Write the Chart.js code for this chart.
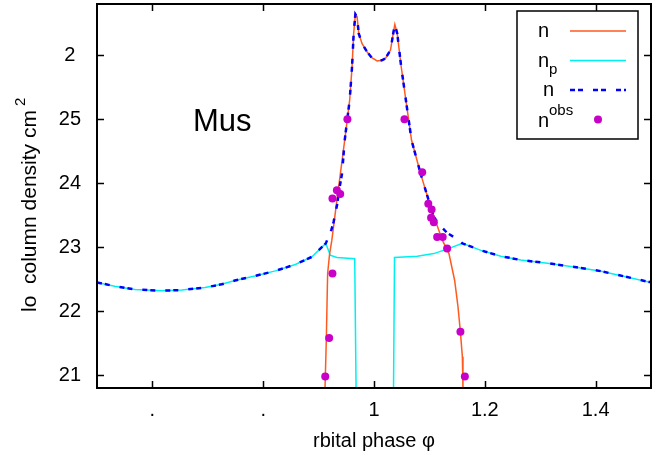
<!DOCTYPE html>
<html>
<head>
<meta charset="utf-8">
<script src="https://cdn.jsdelivr.net/npm/chart.js@4/dist/chart.umd.min.js"></script>
<style>
  html, body { margin: 0; padding: 0; background: #ffffff; }
  #wrap { width: 670px; height: 457px; }
</style>
</head>
<body>
<div id="wrap"><canvas id="colChart" width="670" height="457"></canvas></div>
<script>
// axis ticks (labels as they appear on the axes)
const xTickValues = [0.6, 0.8, 1.0, 1.2, 1.4];
const xTickLabels = ['.', '.', '1', '1.2', '1.4'];
const yTickValues = [21, 22, 23, 24, 25, 26];
const yTickLabels = ['21', '22', '23', '24', '25', '2'];

// total column density (solid curve)
const phaseN = [0.9110, 0.9116, 0.9139, 0.9163, 0.9199, 0.9239, 0.9315, 0.9393, 0.9471, 0.9561,
                0.9604, 0.9633, 0.9664, 0.9695, 0.9724, 0.9785, 0.9876, 0.9960, 1.0057, 1.0140,
                1.0207, 1.0298, 1.0347, 1.0376, 1.0419, 1.0491, 1.0575, 1.0678, 1.0841, 1.1022,
                1.1233, 1.1353, 1.1456, 1.1516, 1.1559, 1.1595, 1.1606, 1.1610];
const logN = [20.50, 20.80, 21.55, 22.59, 22.90, 23.11, 23.63, 24.15, 24.67, 25.30,
              25.82, 26.34, 26.64, 26.60, 26.34, 26.18, 26.05, 25.96, 25.91, 25.92,
              25.95, 26.08, 26.34, 26.48, 26.34, 25.82, 25.30, 24.67, 24.15, 23.63,
              23.11, 22.90, 22.48, 22.07, 21.68, 21.29, 20.80, 20.50];

// n_p component
const phaseP = [0.500, 0.532, 0.568, 0.617, 0.653, 0.695, 0.725, 0.749, 0.785, 0.822,
                0.858, 0.888, 0.913, 0.921, 0.933, 0.9652, 0.9680, 1.0350, 1.0370, 1.078,
                1.108, 1.132, 1.1596, 1.193, 1.229, 1.265, 1.313, 1.362, 1.410, 1.464, 1.500];
const logNP = [22.45, 22.39, 22.34, 22.32, 22.33, 22.37, 22.42, 22.48, 22.55, 22.63,
               22.73, 22.85, 23.06, 22.875, 22.84, 22.82, 20.50, 20.50, 22.84, 22.86,
               22.90, 22.97, 23.06, 22.95, 22.86, 22.80, 22.75, 22.69, 22.625, 22.52, 22.45];

// model column density (dashed)
const phaseM = [0.500, 0.532, 0.568, 0.617, 0.653, 0.695, 0.725, 0.749, 0.785, 0.822,
                0.858, 0.888, 0.913, 0.923, 0.9272, 0.9333, 0.9380, 0.9423, 0.9471, 0.9561,
                0.9604, 0.9633, 0.9664, 0.9695, 0.9724, 0.9785, 0.9876, 0.9960, 1.0057, 1.0140,
                1.0207, 1.0298, 1.0347, 1.0376, 1.0419, 1.0491, 1.0575, 1.0678, 1.0841, 1.1022,
                1.1080, 1.1203, 1.1324, 1.1534, 1.1596, 1.193, 1.229, 1.265, 1.313, 1.362,
                1.410, 1.464, 1.500];
const logNM = [22.45, 22.39, 22.34, 22.32, 22.33, 22.37, 22.42, 22.48, 22.55, 22.63,
               22.73, 22.85, 23.06, 23.27, 23.40, 23.66, 23.94, 24.15, 24.67, 25.30,
               25.82, 26.34, 26.64, 26.60, 26.34, 26.18, 26.05, 25.96, 25.91, 25.92,
               25.95, 26.08, 26.34, 26.48, 26.34, 25.82, 25.30, 24.67, 24.15, 23.63,
               23.47, 23.33, 23.22, 23.11, 23.06, 22.95, 22.86, 22.80, 22.75, 22.69,
               22.625, 22.52, 22.45];

// observed values
const obsPhase = [0.912, 0.919, 0.925, 0.925, 0.933, 0.939, 0.952, 1.055, 1.087, 1.098,
                  1.104, 1.103, 1.108, 1.114, 1.124, 1.132, 1.156, 1.164];
const obsLogN = [20.98, 21.58, 22.59, 23.76, 23.89, 23.83, 25.00, 25.00, 24.17, 23.68,
                 23.59, 23.46, 23.39, 23.16, 23.16, 22.98, 21.68, 20.98];

const FONT = '"Liberation Sans", Arial, Helvetica, sans-serif';

function toPoints(xs, ys) {
    return xs.map((x, i) => ({ x: x, y: ys[i] }));
}

// frame, inward ticks, axis titles, label and key
const decorations = {
    id: 'decorations',
    afterDraw(chart) {
        const ctx = chart.ctx;
        const a = chart.chartArea;
        const xs = chart.scales.x;
        const ys = chart.scales.y;
        const ds = chart.data.datasets;
        ctx.save();

        // border
        ctx.strokeStyle = '#000';
        ctx.lineWidth = 2;
        ctx.strokeRect(a.left, a.top, a.right - a.left, a.bottom - a.top);

        // ticks pointing inwards, mirrored on all sides
        ctx.lineWidth = 1.5;
        ctx.beginPath();
        xTickValues.forEach(v => {
            const px = Math.round(xs.getPixelForValue(v)) + 0.5;
            ctx.moveTo(px, a.bottom); ctx.lineTo(px, a.bottom - 7);
            ctx.moveTo(px, a.top); ctx.lineTo(px, a.top + 7);
        });
        yTickValues.forEach(v => {
            const py = Math.round(ys.getPixelForValue(v)) + 0.5;
            ctx.moveTo(a.left, py); ctx.lineTo(a.left + 7, py);
            ctx.moveTo(a.right, py); ctx.lineTo(a.right - 7, py);
        });
        ctx.stroke();

        ctx.fillStyle = '#000';
        ctx.textBaseline = 'alphabetic';

        // x title
        ctx.font = '20px ' + FONT;
        ctx.textAlign = 'center';
        ctx.fillText('rbital phase \u03c6', (a.left + a.right) / 2, 447);

        // y title, rotated, with superscript
        ctx.save();
        ctx.translate(36, 312);
        ctx.rotate(-Math.PI / 2);
        ctx.textAlign = 'left';
        ctx.font = '21px ' + FONT;
        const yTitle = 'lo  column density cm';
        ctx.fillText(yTitle, 0, 0);
        const w = ctx.measureText(yTitle).width;
        ctx.font = '15px ' + FONT;
        ctx.fillText('2', w + 4, -11);
        ctx.restore();

        // source name
        ctx.font = '31px ' + FONT;
        ctx.textAlign = 'left';
        ctx.fillText('Mus', 193, 131);

        // key
        ctx.lineWidth = 1.5;
        ctx.strokeStyle = '#000';
        ctx.fillStyle = '#fff';
        ctx.fillRect(517, 11, 121, 128);
        ctx.strokeRect(517, 11, 121, 128);
        ctx.fillStyle = '#000';
        ctx.textAlign = 'left';

        ctx.font = '20px ' + FONT;
        ctx.fillText('n', 538, 37);
        ctx.fillText('n', 538, 67);
        ctx.fillText('n', 543, 96);
        ctx.fillText('n', 538, 127);
        ctx.font = '15px ' + FONT;
        ctx.fillText('p', 549, 74);
        ctx.fillText('obs', 549, 115);

        const keyLine = (d, y) => {
            ctx.save();
            ctx.strokeStyle = d.borderColor;
            ctx.lineWidth = d.borderWidth;
            ctx.setLineDash(d.borderDash || []);
            ctx.beginPath();
            ctx.moveTo(570, y);
            ctx.lineTo(626, y);
            ctx.stroke();
            ctx.restore();
        };
        keyLine(ds[0], 31);
        keyLine(ds[1], 60.5);
        keyLine(ds[2], 90);

        ctx.fillStyle = ds[3].backgroundColor;
        ctx.beginPath();
        ctx.arc(598, 119.5, ds[3].pointRadius, 0, Math.PI * 2);
        ctx.fill();

        ctx.restore();
    }
};

const config = {
    type: 'scatter',
    data: {
        datasets: [
            {
                label: 'n',
                data: toPoints(phaseN, logN),
                showLine: true,
                borderColor: '#ff5a1e',
                borderWidth: 1.5,
                pointRadius: 0,
                clip: 0,
                order: 2
            },
            {
                label: 'n_p',
                data: toPoints(phaseP, logNP),
                showLine: true,
                borderColor: '#00f0f0',
                borderWidth: 1.5,
                pointRadius: 0,
                clip: 0,
                order: 3
            },
            {
                label: 'n model',
                data: toPoints(phaseM, logNM),
                showLine: true,
                borderColor: '#0000ff',
                borderWidth: 2.5,
                borderDash: [5, 3, 5, 10],
                pointRadius: 0,
                clip: 0,
                order: 1
            },
            {
                label: 'n obs',
                data: toPoints(obsPhase, obsLogN),
                showLine: false,
                backgroundColor: '#c800c8',
                borderColor: '#c800c8',
                borderWidth: 0,
                pointRadius: 4,
                clip: 0,
                order: 0
            }
        ]
    },
    options: {
        responsive: false,
        devicePixelRatio: 1,
        animation: false,
        events: [],
        layout: { padding: { left: 0, right: 19, top: 4, bottom: 0 } },
        plugins: {
            legend: { display: false },
            tooltip: { enabled: false }
        },
        scales: {
            x: {
                type: 'linear',
                min: 0.5,
                max: 1.5,
                afterBuildTicks: s => { s.ticks = xTickValues.map(v => ({ value: v })); },
                afterFit: s => { s.height = 69; s.paddingLeft = 0; s.paddingRight = 0; },
                grid: { display: false },
                border: { display: false },
                ticks: {
                    autoSkip: false,
                    maxRotation: 0,
                    padding: 2,
                    color: '#000',
                    font: { family: FONT, size: 20 },
                    callback: (v, i) => xTickLabels[i]
                }
            },
            y: {
                type: 'linear',
                min: 20.8,
                max: 26.8,
                afterBuildTicks: s => { s.ticks = yTickValues.map(v => ({ value: v })); },
                afterFit: s => { s.width = 97; s.paddingTop = 0; s.paddingBottom = 0; },
                grid: { display: false },
                border: { display: false },
                ticks: {
                    autoSkip: false,
                    crossAlign: 'center',
                    padding: 8,
                    color: '#000',
                    font: { family: FONT, size: 20 },
                    callback: (v, i) => yTickLabels[i]
                }
            }
        }
    },
    plugins: [decorations]
};

new Chart(document.getElementById('colChart').getContext('2d'), config);
</script>
</body>
</html>
